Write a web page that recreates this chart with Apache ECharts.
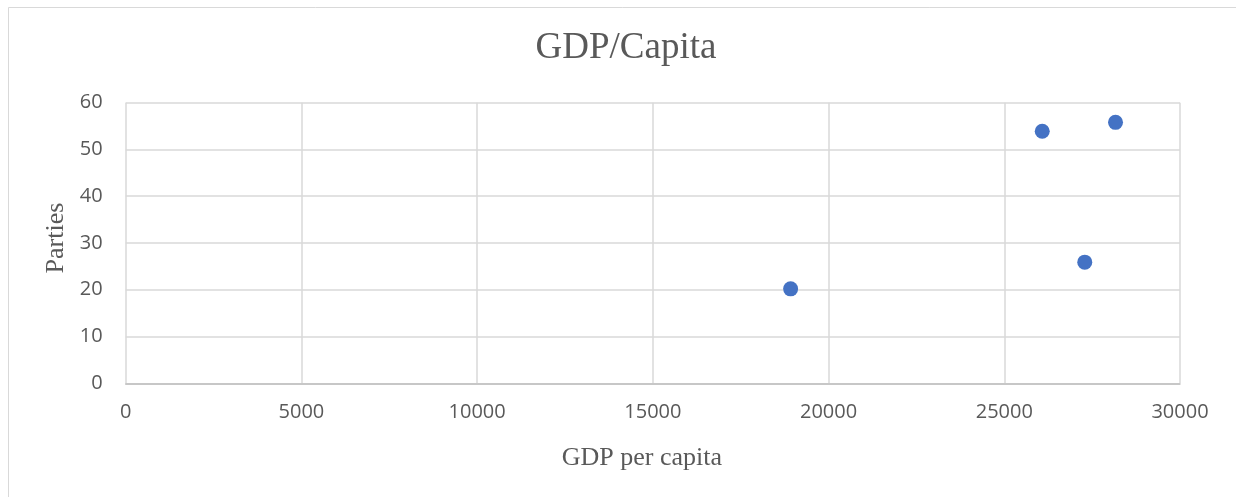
<!DOCTYPE html>
<html>
<head>
<meta charset="utf-8">
<script src="https://cdn.jsdelivr.net/npm/echarts@6/dist/echarts.min.js"></script>
<style>
html,body{margin:0;padding:0;background:#fff;}
#chart{width:1236px;height:497px;}
</style>
</head>
<body>
<div id="chart"></div>
<script>
// Data
const gdpPerCapita = [18920, 26080, 27290, 28165];
const parties = [20.2, 53.9, 25.9, 55.8];
const titleText = 'GDP/Capita';
const xAxisName = 'GDP per capita';
const yAxisName = 'Parties';

const points = gdpPerCapita.map((g, i) => [g, parties[i]]);

const chart = echarts.init(document.getElementById('chart'), null, {renderer: 'canvas'});
chart.setOption({
  animation: false,
  backgroundColor: '#ffffff',
  graphic: [{
    type: 'rect',
    shape: {x: 8.5, y: 7.5, width: 1240, height: 500},
    style: {fill: 'none', stroke: '#d9d9d9', lineWidth: 1},
    silent: true
  }],
  title: {
    text: titleText,
    left: 621,
    textAlign: 'center',
    top: 25,
    textStyle: {fontFamily: 'Liberation Serif', fontSize: 37, fontWeight: 'normal', color: '#595959'}
  },
  grid: {left: 125.7, right: 56, top: 102.7, bottom: 113.7, containLabel: false},
  xAxis: {
    type: 'value',
    min: 0, max: 30000, interval: 5000,
    name: xAxisName,
    nameLocation: 'middle',
    nameGap: 62,
    nameTextStyle: {fontFamily: 'Liberation Serif', fontSize: 26, color: '#595959', padding: [0, 22, 0, 0]},
    axisLine: {show: true, lineStyle: {color: '#bfbfbf', width: 1.5}},
    axisTick: {show: false},
    splitLine: {show: true, lineStyle: {color: '#d9d9d9', width: 1.5}},
    axisLabel: {fontFamily: 'Open Sans', fontSize: 20, color: '#595959', margin: 19, formatter: v => String(v)}
  },
  yAxis: {
    type: 'value',
    min: 0, max: 60, interval: 10,
    name: yAxisName,
    nameLocation: 'middle',
    nameRotate: 90,
    nameGap: 54,
    nameTextStyle: {fontFamily: 'Liberation Serif', fontSize: 26, color: '#595959', padding: [0, 0, 0, 10]},
    axisLine: {show: false},
    axisTick: {show: false},
    splitLine: {show: true, lineStyle: {color: '#d9d9d9', width: 1.5}},
    axisLabel: {fontFamily: 'Open Sans', fontSize: 20, color: '#595959', margin: 23}
  },
  series: [{
    type: 'scatter',
    data: points,
    symbol: 'circle',
    symbolSize: 15,
    itemStyle: {color: '#4472C4', opacity: 1}
  }]
});
</script>
</body>
</html>
